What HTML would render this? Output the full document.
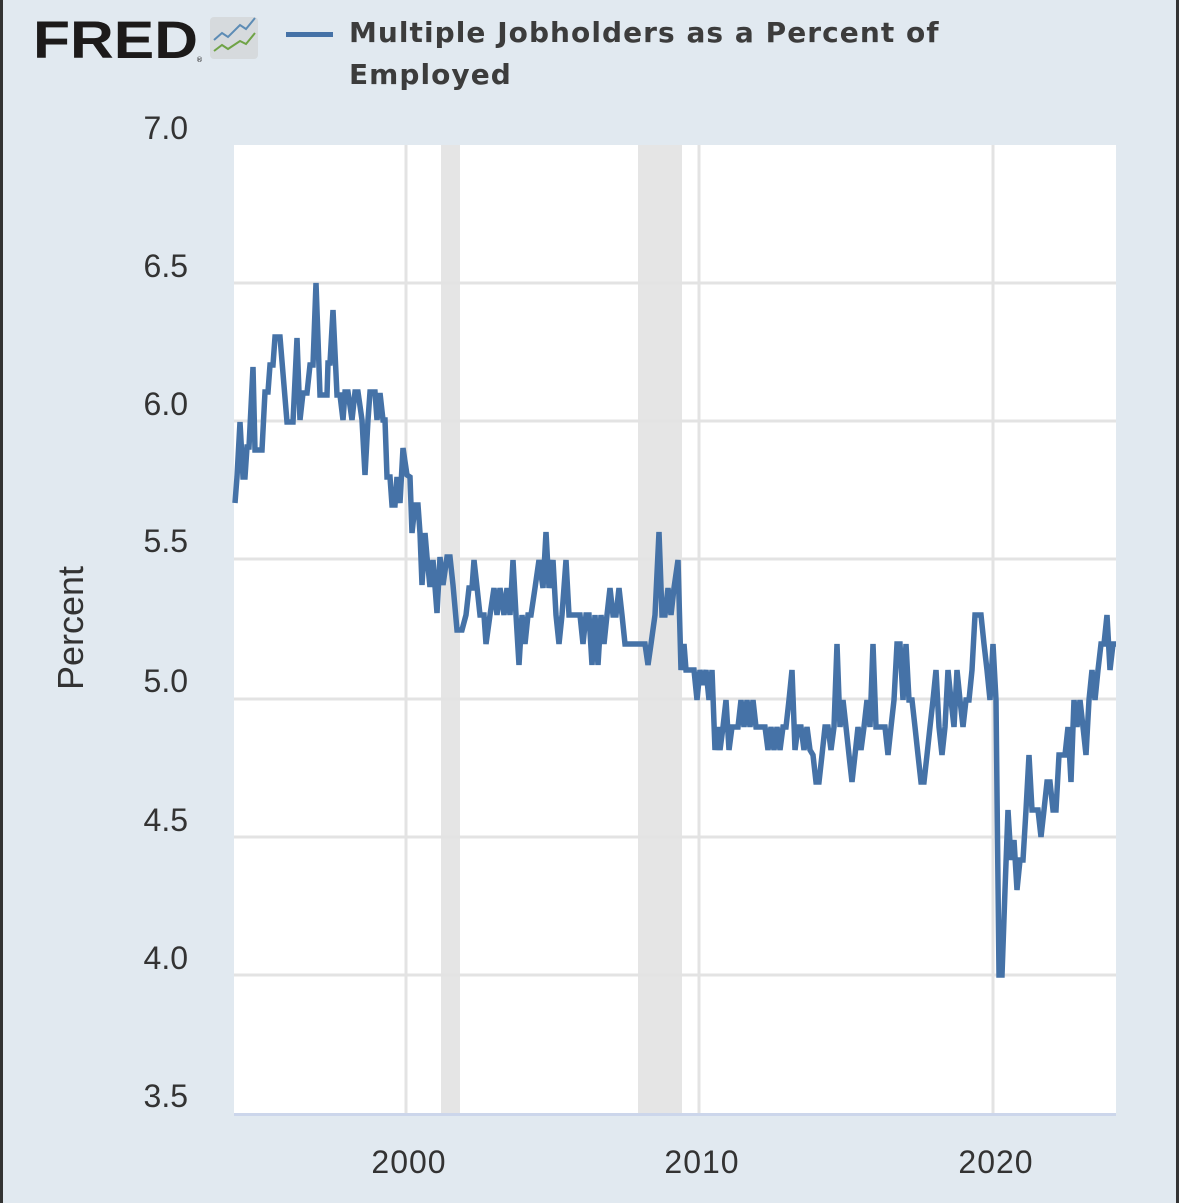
<!DOCTYPE html>
<html><head><meta charset="utf-8"><style>
html,body{margin:0;padding:0;}
body{width:1179px;height:1203px;background:#e1e9f0;position:relative;overflow:hidden;font-family:"DejaVu Sans","Liberation Sans",sans-serif;}
</style></head><body>
<svg width="1179" height="1203" viewBox="0 0 1179 1203" xmlns="http://www.w3.org/2000/svg" style="position:absolute;left:0;top:0">
<rect x="0" y="0" width="3" height="1203" fill="#333"/>
<rect x="1176" y="0" width="3" height="1203" fill="#333"/>
<!-- logo -->
<text x="33" y="58" font-family="Liberation Sans, sans-serif" font-weight="bold" font-size="53" fill="#1c1a1a" textLength="165" lengthAdjust="spacingAndGlyphs">FRED</text>
<text x="196" y="62" font-size="7" fill="#1c1a1a">®</text>
<rect x="210" y="17" width="48" height="42" rx="4" fill="#d6dadd"/>
<polyline points="214,40 222,33 228,37 240,25 246,29 255,18" fill="none" stroke="#5d8cb5" stroke-width="2"/>
<polyline points="214,51 222,45 228,49 240,41 246,44 255,33" fill="none" stroke="#6fa346" stroke-width="2"/>
<!-- legend -->
<rect x="286" y="32" width="47" height="5" fill="#4572a7"/>
<text x="349" y="42" font-size="28" font-weight="bold" fill="#3c3c3c" letter-spacing="1.05">Multiple Jobholders as a Percent of</text>
<text x="349" y="84" font-size="28" font-weight="bold" fill="#3c3c3c" letter-spacing="1.05">Employed</text>
<!-- plot -->
<rect x="234" y="145" width="882" height="968" fill="#fff"/>
<rect x="441" y="145" width="19" height="968" fill="#e5e5e5"/>
<rect x="638" y="145" width="44" height="968" fill="#e5e5e5"/>
<g stroke="#e3e3e3" stroke-width="3">
<line x1="234" x2="1116" y1="283" y2="283"/><line x1="234" x2="1116" y1="421" y2="421"/>
<line x1="234" x2="1116" y1="559" y2="559"/><line x1="234" x2="1116" y1="699" y2="699"/>
<line x1="234" x2="1116" y1="837" y2="837"/><line x1="234" x2="1116" y1="975" y2="975"/>
<line x1="406" x2="406" y1="145" y2="1113"/><line x1="699" x2="699" y1="145" y2="1113"/><line x1="993" x2="993" y1="145" y2="1113"/>
</g>
<rect x="234" y="1113" width="882" height="3" fill="#ccd6eb"/>
<g fill="#333" font-size="32" text-anchor="end" font-family="Liberation Sans, sans-serif">
<text x="188" y="139">7.0</text><text x="188" y="277">6.5</text><text x="188" y="415">6.0</text>
<text x="188" y="552">5.5</text><text x="188" y="692">5.0</text><text x="188" y="831">4.5</text>
<text x="188" y="969">4.0</text><text x="188" y="1107">3.5</text>
</g>
<g fill="#333" font-size="32" text-anchor="middle" font-family="Liberation Sans, sans-serif" letter-spacing="1">
<text x="409" y="1173">2000</text><text x="702" y="1173">2010</text><text x="996" y="1173">2020</text>
</g>
<text transform="translate(83,628) rotate(-90)" text-anchor="middle" font-size="36" fill="#333" font-family="Liberation Sans, sans-serif">Percent</text>
<polyline fill="none" stroke="#4572a7" stroke-width="5.5" stroke-linejoin="miter" points="
235,503 237,477 240,422 243,477 245,477 247,447 249,447 253,367 255,450 262,450 265,392 268,392 270,365 273,365 275,337 280,337 287,422 293,422 297,338 300,420 303,393 307,393 310,365 313,365 316,283 320,395 327,395 328,363 330,363 333,310 337,395 340,395 343,420 345,392 348,392 352,420 355,392 358,392 362,420 365,475 368,420 370,392 375,392 377,420 380,393 383,420 385,420 387,477 390,477 392,505 395,505 397,477 400,503 403,448 407,475 410,477 412,533 415,505 418,505 420,533 422,585 425,533 427,557 430,587 433,560 437,613 440,557 443,585 447,557 450,557 453,585 457,630 462,630 466,615 469,588 472,588 474,560 477,587 480,615 484,615 486,644 490,615 494,588 497,615 500,588 504,615 507,588 510,615 513,560 516,615 519,665 522,615 525,644 528,615 531,615 535,588 539,560 543,588 546,532 549,588 553,560 556,615 559,644 562,615 566,560 569,615 575,615 580,615 583,644 586,615 589,615 592,665 595,615 598,665 601,615 604,644 607,615 610,588 613,615 616,615 619,588 622,615 625,644 635,644 645,644 648,665 651,644 655,615 659,532 662,615 665,615 668,588 671,615 674,588 678,560 681,670 684,644 686,670 690,670 694,670 697,700 700,670 703,685 706,670 709,700 712,670 715,750 718,727 720,750 723,727 726,700 729,750 732,727 735,727 738,727 741,700 744,727 747,700 750,727 753,700 756,727 760,727 765,727 768,750 771,727 774,750 777,727 780,750 783,727 786,727 789,700 792,670 795,750 798,727 801,727 804,750 807,727 810,750 813,755 816,782 819,782 822,755 825,727 828,727 831,750 834,727 837,644 840,727 843,700 846,727 849,755 852,782 855,755 858,727 861,750 864,727 867,700 870,727 873,644 876,727 879,727 882,727 885,727 888,755 891,727 894,700 897,644 900,644 903,700 906,644 909,700 912,700 915,727 918,755 921,782 924,782 927,755 930,727 933,700 936,670 939,727 942,755 945,727 948,670 951,700 954,727 957,670 960,700 963,727 966,700 969,700 972,670 975,615 978,615 981,615 984,644 987,670 990,700 993,644 996,700 999,975 1002,975 1005,890 1008,810 1011,860 1014,840 1017,890 1020,860 1023,860 1026,810 1029,755 1032,810 1035,810 1038,810 1041,837 1044,810 1047,782 1050,782 1053,810 1056,810 1059,755 1062,755 1065,755 1068,727 1071,782 1074,700 1077,727 1080,700 1083,727 1086,755 1089,700 1092,670 1095,700 1098,670 1101,644 1104,644 1107,615 1110,670 1113,644 1116,644"/>
</svg>
</body></html>
